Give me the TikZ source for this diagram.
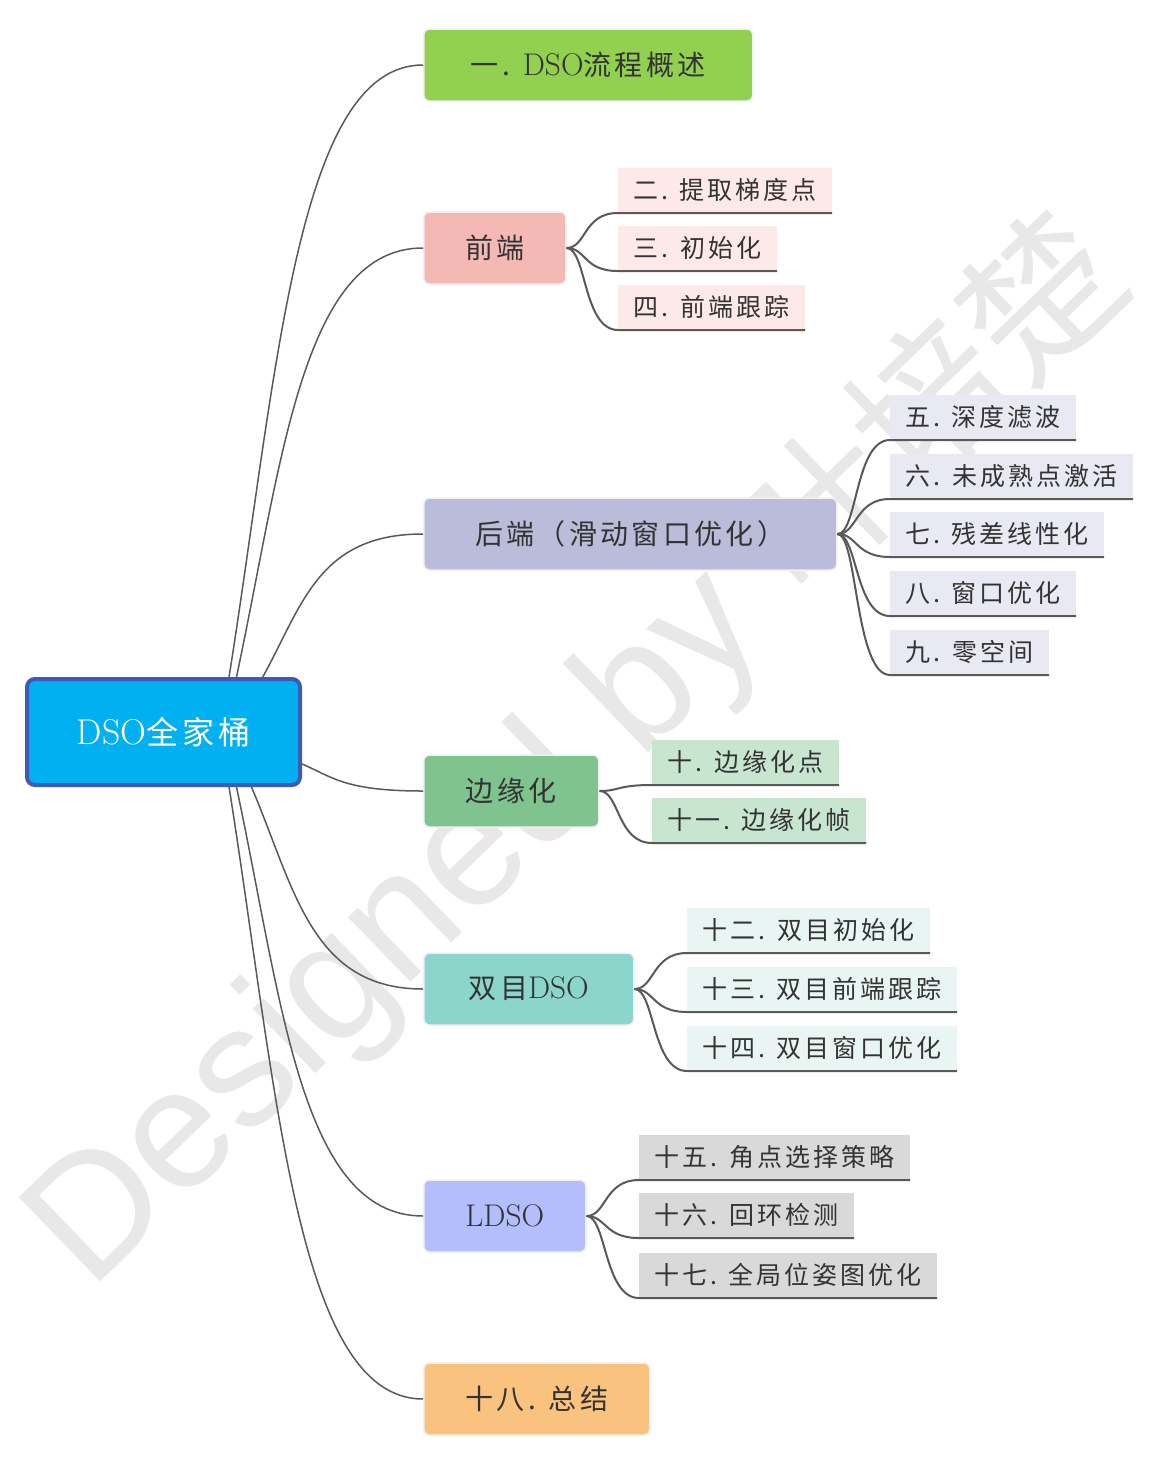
\documentclass[tikz,border=0pt]{standalone}
\usepackage{fontspec}
\usepackage{tikz}
\usetikzlibrary{positioning,calc}
\setmainfont[Scale=1.12]{Latin Modern Roman}
\newfontfamily\cjk[LetterSpace=12]{Noto Sans CJK SC}
\newfontfamily\cjkmark[Scale=0.9]{Noto Sans CJK SC}
\newfontfamily\marksans{Liberation Sans}

\definecolor{rootfill}{HTML}{00B0F0}
\definecolor{rootline}{HTML}{3F5AB5}
\definecolor{gsfill}{HTML}{92D050}
\definecolor{qdfill}{HTML}{F4B9B5}
\definecolor{qdleaf}{HTML}{FDE9E8}
\definecolor{hdfill}{HTML}{BABCD9}
\definecolor{hdleaf}{HTML}{E8E9F2}
\definecolor{byfill}{HTML}{7FC48F}
\definecolor{byleaf}{HTML}{C8E5D0}
\definecolor{smfill}{HTML}{8CD5CA}
\definecolor{smleaf}{HTML}{E8F5F3}
\definecolor{ldfill}{HTML}{B4BEFC}
\definecolor{ldleaf}{HTML}{D9D9D9}
\definecolor{zjfill}{HTML}{F9C27E}
\definecolor{textgray}{HTML}{333333}
\definecolor{linegray}{HTML}{595959}
\definecolor{markgray}{HTML}{E8E8E8}

\begin{document}
\begin{tikzpicture}[
  x=1pt, y=-1pt,
  root/.style={draw=rootline,fill=rootfill,line width=4pt,rounded corners=8pt,
    minimum width=273pt,minimum height=106pt,text=white,
    font=\cjk\fontsize{32}{34}\selectfont},
  branch/.style={draw=white!88!gray,line width=1.5pt,rounded corners=6pt,
    minimum height=72pt,anchor=west,text=textgray,
    font=\cjk\fontsize{28}{30}\selectfont},
  leaf/.style={minimum height=45.5pt,anchor=south west,inner sep=0pt,
    outer sep=0pt,text=textgray,font=\cjk\fontsize{25}{27}\selectfont},
  link/.style={draw=linegray,line width=1.5pt,in=180},
  twig/.style={draw=linegray,line width=2pt,out=0,in=180,
    out distance=20pt,in distance=35pt},
  watermark/.style={anchor=base west,rotate=44,inner sep=0pt,text=markgray,
    font=\marksans\fontsize{170}{170}\selectfont},
]
  \path[use as bounding box,fill=white] (0,0) rectangle (1155,1465);
  \node[watermark] (mark) at (90,1292) {Designed by {\cjkmark 叶培楚}};

  % root and main branches
  \node[root] (dso) at (163.5,732) {{\rmfamily DSO}全家桶};
  \node[branch,fill=gsfill,minimum width=329pt] (gaishu) at (423,65)
    {一. {\rmfamily DSO}流程概述};
  \node[branch,fill=qdfill,minimum width=142pt] (qianduan) at (423,248) {前端};
  \node[branch,fill=hdfill,minimum width=413pt] (houduan) at (423,534)
    {后端（滑动窗口优化）};
  \node[branch,fill=byfill,minimum width=175pt] (bianyuan) at (423,791) {边缘化};
  \node[branch,fill=smfill,minimum width=210pt] (shuangmu) at (423,989)
    {双目{\rmfamily DSO}};
  \node[branch,fill=ldfill,minimum width=162pt] (ldso) at (423,1216)
    {{\rmfamily LDSO}};
  \node[branch,fill=zjfill,minimum width=226pt] (zongjie) at (423,1399)
    {十八. 总结};

  \draw[link] (dso.40) to[out=81,out distance=310pt,in distance=126pt] (gaishu.west);
  \draw[link] (dso.37) to[out=78,out distance=220pt,in distance=121pt] (qianduan.west);
  \draw[link] (dso.29) to[out=61,out distance=82pt,in distance=105pt] (houduan.west);
  \draw[link] (dso.-13) to[out=-23,out distance=33pt,in distance=79pt] (bianyuan.west);
  \draw[link] (dso.-32) to[out=-67,out distance=110pt,in distance=112pt] (shuangmu.west);
  \draw[link] (dso.-37) to[out=-78,out distance=220pt,in distance=122pt] (ldso.west);
  \draw[link] (dso.-40) to[out=-81,out distance=310pt,in distance=126pt] (zongjie.west);

  % front end
  \node[leaf,fill=qdleaf,minimum width=214pt] (tidu) at (618,213) {二. 提取梯度点};
  \node[leaf,fill=qdleaf,minimum width=159pt] (chushi) at (618,271) {三. 初始化};
  \node[leaf,fill=qdleaf,minimum width=187pt] (genzong) at (618,330) {四. 前端跟踪};
  \draw[twig] (qianduan.east) to (tidu.south west) -- (tidu.south east);
  \draw[twig] (qianduan.east) to (chushi.south west) -- (chushi.south east);
  \draw[twig] (qianduan.east) to (genzong.south west) -- (genzong.south east);

  % back end
  \node[leaf,fill=hdleaf,minimum width=186pt] (lvbo) at (890,440) {五. 深度滤波};
  \node[leaf,fill=hdleaf,minimum width=243pt] (jihuo) at (890,499) {六. 未成熟点激活};
  \node[leaf,fill=hdleaf,minimum width=214pt] (xianxing) at (890,557) {七. 残差线性化};
  \node[leaf,fill=hdleaf,minimum width=186pt] (youhua) at (890,616) {八. 窗口优化};
  \node[leaf,fill=hdleaf,minimum width=159pt] (lingkong) at (890,675) {九. 零空间};
  \draw[twig] (houduan.east) to (lvbo.south west) -- (lvbo.south east);
  \draw[twig] (houduan.east) to (jihuo.south west) -- (jihuo.south east);
  \draw[twig] (houduan.east) to (xianxing.south west) -- (xianxing.south east);
  \draw[twig] (houduan.east) to (youhua.south west) -- (youhua.south east);
  \draw[twig] (houduan.east) to (lingkong.south west) -- (lingkong.south east);

  % marginalization
  \node[leaf,fill=byleaf,minimum width=187pt] (bypoint) at (652,785) {十. 边缘化点};
  \node[leaf,fill=byleaf,minimum width=214pt] (byframe) at (652,843) {十一. 边缘化帧};
  \draw[twig] (bianyuan.east) to (bypoint.south west) -- (bypoint.south east);
  \draw[twig] (bianyuan.east) to (byframe.south west) -- (byframe.south east);

  % stereo
  \node[leaf,fill=smleaf,minimum width=243pt] (smchushi) at (687,953) {十二. 双目初始化};
  \node[leaf,fill=smleaf,minimum width=270pt] (smgenzong) at (687,1012) {十三. 双目前端跟踪};
  \node[leaf,fill=smleaf,minimum width=270pt] (smyouhua) at (687,1071) {十四. 双目窗口优化};
  \draw[twig] (shuangmu.east) to (smchushi.south west) -- (smchushi.south east);
  \draw[twig] (shuangmu.east) to (smgenzong.south west) -- (smgenzong.south east);
  \draw[twig] (shuangmu.east) to (smyouhua.south west) -- (smyouhua.south east);

  % LDSO
  \node[leaf,fill=ldleaf,minimum width=271pt] (jiaodian) at (639,1180) {十五. 角点选择策略};
  \node[leaf,fill=ldleaf,minimum width=215pt] (huihuan) at (639,1238) {十六. 回环检测};
  \node[leaf,fill=ldleaf,minimum width=298pt] (weizi) at (639,1298) {十七. 全局位姿图优化};
  \draw[twig] (ldso.east) to (jiaodian.south west) -- (jiaodian.south east);
  \draw[twig] (ldso.east) to (huihuan.south west) -- (huihuan.south east);
  \draw[twig] (ldso.east) to (weizi.south west) -- (weizi.south east);
\end{tikzpicture}
\end{document}
